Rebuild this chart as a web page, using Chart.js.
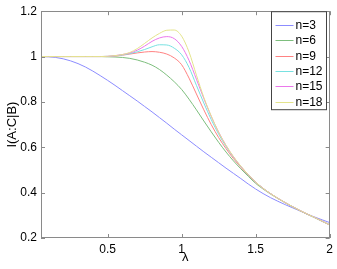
<!DOCTYPE html>
<html><head><meta charset="utf-8">
<script src="https://cdn.jsdelivr.net/npm/chart.js@4"></script>
<style>html,body{margin:0;padding:0;background:#fff}#wrap{width:337px;height:269px}</style>
</head><body><div id="wrap"><canvas id="c"></canvas></div>
<script>
const lambda = [0.05,0.1,0.15,0.2,0.25,0.3,0.35,0.4,0.45,0.5,0.55,0.6,0.65,0.7,0.75,0.8,0.85,0.9,0.95,1.0,1.05,1.1,1.15,1.2,1.25,1.3,1.35,1.4,1.45,1.5,1.55,1.6,1.65,1.7,1.75,1.8,1.85,1.9,1.95,2.0];
const n3  = [1.000,0.999,0.996,0.990,0.981,0.969,0.954,0.936,0.916,0.895,0.873,0.850,0.827,0.804,0.780,0.756,0.731,0.706,0.680,0.655,0.630,0.605,0.580,0.556,0.532,0.508,0.485,0.462,0.438,0.416,0.396,0.378,0.362,0.347,0.333,0.319,0.305,0.292,0.280,0.268];
const n6  = [1.000,1.000,1.000,1.000,1.000,1.000,1.000,1.000,1.000,0.999,0.998,0.996,0.992,0.985,0.975,0.962,0.943,0.918,0.889,0.855,0.812,0.765,0.716,0.668,0.622,0.579,0.540,0.505,0.472,0.441,0.416,0.394,0.374,0.355,0.337,0.320,0.304,0.289,0.273,0.258];
const n9  = [1.000,1.000,1.000,1.000,1.000,1.000,1.000,1.000,1.000,1.000,1.002,1.006,1.011,1.016,1.020,1.022,1.019,1.011,0.994,0.964,0.905,0.835,0.765,0.700,0.643,0.594,0.550,0.512,0.477,0.446,0.419,0.396,0.375,0.356,0.338,0.321,0.305,0.290,0.274,0.258];
const n12 = [1.000,1.000,1.000,1.000,1.000,1.000,1.000,1.000,1.000,1.001,1.003,1.007,1.013,1.021,1.031,1.043,1.052,1.051,1.037,1.008,0.952,0.873,0.795,0.722,0.658,0.603,0.556,0.515,0.479,0.447,0.419,0.396,0.375,0.356,0.338,0.321,0.305,0.290,0.274,0.258];
const n15 = [1.000,1.000,1.000,1.000,1.000,1.000,1.000,1.000,1.000,1.001,1.004,1.009,1.016,1.028,1.046,1.067,1.082,1.088,1.079,1.045,0.983,0.900,0.815,0.736,0.667,0.608,0.558,0.516,0.480,0.447,0.419,0.396,0.375,0.356,0.338,0.321,0.305,0.290,0.274,0.258];
const n18 = [1.000,1.000,1.000,1.000,1.000,1.000,1.000,1.000,1.000,1.001,1.004,1.009,1.018,1.035,1.058,1.082,1.102,1.116,1.117,1.090,1.020,0.918,0.820,0.738,0.666,0.608,0.559,0.517,0.480,0.447,0.419,0.396,0.375,0.356,0.338,0.321,0.305,0.290,0.274,0.258];
const seriesLabels = ['n=3','n=6','n=9','n=12','n=15','n=18'];
const seriesColors = ['rgb(140,140,255)','rgb(125,190,125)','rgb(255,130,130)','rgb(120,225,225)','rgb(235,120,235)','rgb(228,228,140)'];
const xTicks = [0.5,1,1.5,2];
const yTicks = [0.2,0.4,0.6,0.8,1.0,1.2];
const xTitle = 'λ';
const yTitle = 'I(A:C|B)';

const allSeries = [n3,n6,n9,n12,n15,n18];
const datasets = allSeries.map((s,i)=>({
  label: seriesLabels[i],
  data: lambda.map((x,j)=>({x:x,y:s[j]})),
  borderColor: seriesColors[i],
  borderWidth: 1,
  pointRadius: 0,
  fill: false,
  cubicInterpolationMode: 'monotone',
  order: allSeries.length - i
}));

const FONT = '"Liberation Sans", Arial, sans-serif';

const frame = {
  id:'frame',
  afterDatasetsDraw(chart){
    const {ctx, chartArea:a, scales} = chart;
    ctx.save();
    ctx.strokeStyle = '#8a8a8a';
    ctx.lineWidth = 1;
    ctx.strokeRect(Math.round(a.left)+0.5, Math.round(a.top)+0.5, Math.round(a.right-a.left)-1, Math.round(a.bottom-a.top)-1);
    ctx.beginPath();
    const L = 4;
    xTicks.forEach(v=>{
      const px = Math.round(scales.x.getPixelForValue(v))+0.5;
      ctx.moveTo(px,a.bottom); ctx.lineTo(px,a.bottom-L);
      ctx.moveTo(px,a.top); ctx.lineTo(px,a.top+L);
    });
    yTicks.forEach(v=>{
      const py = Math.round(scales.y.getPixelForValue(v))+0.5;
      ctx.moveTo(a.left,py); ctx.lineTo(a.left+L,py);
      ctx.moveTo(a.right,py); ctx.lineTo(a.right-L,py);
    });
    ctx.stroke();
    // legend
    const bx = 271.5, by = a.top+0.5, bw = 55, bh = 98;
    ctx.fillStyle = '#fff';
    ctx.fillRect(bx,by,bw,bh);
    ctx.strokeStyle = '#444';
    ctx.strokeRect(bx,by,bw,bh);
    ctx.font = '12px ' + FONT;
    ctx.textBaseline = 'middle';
    ctx.textAlign = 'left';
    chart.data.datasets.forEach((d,i)=>{
      const y = Math.round(by + 13 + i*15.4)+0.5;
      ctx.strokeStyle = d.borderColor;
      ctx.beginPath(); ctx.moveTo(bx+4,y); ctx.lineTo(bx+22,y); ctx.stroke();
      ctx.fillStyle = '#000';
      ctx.fillText(d.label, bx+24, y+0.5);
    });
    ctx.restore();
  }
};

new Chart(document.getElementById('c'), {
  type:'line',
  data:{datasets},
  options:{
    responsive:true, maintainAspectRatio:false, animation:false,
    layout:{padding:{left:0,right:6,top:10,bottom:0}},
    plugins:{legend:{display:false}, tooltip:{enabled:false}},
    scales:{
      x:{type:'linear', min:0.05, max:2,
        afterBuildTicks(s){ s.ticks = xTicks.map(v=>({value:v})); },
        afterFit(s){ s.height = 31; },
        grid:{display:false, drawTicks:false, tickLength:0}, border:{display:false},
        ticks:{color:'#000', font:{family:FONT, size:12}, padding:4, maxRotation:0,
          callback:(v)=>String(v)},
        title:{display:true, text:xTitle, color:'#000', font:{family:FONT, size:13}, padding:{top:0,bottom:4}}
      },
      y:{min:0.2, max:1.2,
        afterBuildTicks(s){ s.ticks = yTicks.map(v=>({value:v})); },
        afterFit(s){ s.width = 41; },
        grid:{display:false, drawTicks:false, tickLength:0}, border:{display:false},
        ticks:{color:'#000', font:{family:FONT, size:12}, padding:4,
          callback:(v)=>String(Math.round(v*10)/10)},
        title:{display:true, text:yTitle, color:'#000', font:{family:FONT, size:13}, padding:{top:5,bottom:0}}
      }
    }
  },
  plugins:[frame]
});
</script></body></html>
